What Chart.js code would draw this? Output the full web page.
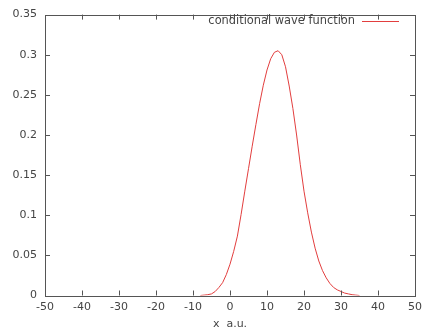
<!DOCTYPE html>
<html lang="en">
<head>
    <meta charset="UTF-8">
    <title>Conditional wave function</title>
    <script src="https://cdn.jsdelivr.net/npm/chart.js"></script>
    <style>
        html, body { margin: 0; padding: 0; background: #fff; }
        #wrap { width: 422px; height: 333px; }
    </style>
</head>
<body>
    <div id="wrap"><canvas id="waveChart"></canvas></div>
    <script>
        // values
        const xValues = [-8, -7, -6, -5, -4, -3, -2, -1, 0, 1, 2, 3, 4, 5, 6, 7, 8, 9, 10, 11, 12, 13,
            14, 15, 16, 17, 18, 19, 20, 21, 22, 23, 24, 25, 26, 27, 28, 29, 30, 31, 32, 33, 34, 35];
        const waveValues = [0.0, 0.0005, 0.001, 0.002, 0.005, 0.010, 0.016, 0.026, 0.039, 0.055, 0.074,
            0.101, 0.130, 0.158, 0.186, 0.213, 0.239, 0.262, 0.281, 0.295, 0.303, 0.305, 0.300, 0.285,
            0.261, 0.233, 0.200, 0.163, 0.130, 0.103, 0.079, 0.059, 0.043, 0.031, 0.022, 0.015, 0.010,
            0.007, 0.005, 0.003, 0.002, 0.001, 0.0005, 0.0];
        const xTicks = [-50, -40, -30, -20, -10, 0, 10, 20, 30, 40, 50];
        const yTicks = [0, 0.05, 0.1, 0.15, 0.2, 0.25, 0.3, 0.35];
        const seriesLabel = 'conditional wave function';
        const xTitle = 'x  a.u.';

        const lineColor = 'rgb(226, 62, 62)';
        const axisColor = '#555';
        const textColor = '#444';
        const font = { family: 'DejaVu Sans', size: 11 };

        // gnuplot-like frame, inward ticks and key
        const framePlugin = {
            id: 'frame',
            afterDraw(chart) {
                const { ctx, chartArea: a, scales } = chart;
                ctx.save();
                ctx.strokeStyle = axisColor;
                ctx.lineWidth = 1;
                ctx.strokeRect(Math.round(a.left) + 0.5, Math.round(a.top) + 0.5,
                    Math.round(a.right - a.left), Math.round(a.bottom - a.top));
                ctx.beginPath();
                xTicks.forEach(v => {
                    if (v === xTicks[0] || v === xTicks[xTicks.length - 1]) return;
                    const px = Math.round(scales.x.getPixelForValue(v)) + 0.5;
                    ctx.moveTo(px, a.bottom); ctx.lineTo(px, a.bottom - 5);
                    ctx.moveTo(px, a.top); ctx.lineTo(px, a.top + 5);
                });
                yTicks.forEach(v => {
                    if (v === yTicks[0] || v === yTicks[yTicks.length - 1]) return;
                    const py = Math.round(scales.y.getPixelForValue(v)) + 0.5;
                    ctx.moveTo(a.left, py); ctx.lineTo(a.left + 5, py);
                    ctx.moveTo(a.right, py); ctx.lineTo(a.right - 5, py);
                });
                ctx.stroke();

                // key: text then sample line
                ctx.font = '11.4px ' + font.family;
                ctx.fillStyle = textColor;
                ctx.textAlign = 'right';
                ctx.textBaseline = 'middle';
                ctx.fillText(seriesLabel, 355, 21);
                ctx.beginPath();
                ctx.strokeStyle = lineColor;
                ctx.moveTo(362, 21.5); ctx.lineTo(399, 21.5);
                ctx.stroke();
                ctx.restore();
            }
        };

        new Chart(document.getElementById('waveChart'), {
            type: 'line',
            data: {
                datasets: [{
                    label: seriesLabel,
                    data: xValues.map((x, i) => ({ x: x, y: waveValues[i] })),
                    borderColor: lineColor,
                    borderWidth: 1,
                    pointRadius: 0,
                    tension: 0,
                    fill: false
                }]
            },
            options: {
                responsive: true,
                maintainAspectRatio: false,
                animation: false,
                layout: { padding: { top: 13, right: 7, left: 0, bottom: 0 } },
                plugins: { legend: { display: false }, tooltip: { enabled: false } },
                scales: {
                    x: {
                        type: 'linear',
                        min: -50, max: 50,
                        afterBuildTicks: s => { s.ticks = xTicks.map(v => ({ value: v })); },
                        afterFit: s => { s.height = 37.5; s.paddingLeft = 0; s.paddingRight = 0; },
                        grid: { display: false, drawTicks: false },
                        border: { display: false },
                        ticks: { color: textColor, font: font, padding: 5, maxRotation: 0 },
                        title: { display: true, text: xTitle, color: textColor, font: font, padding: { top: 0, bottom: 2 } }
                    },
                    y: {
                        min: 0, max: 0.35,
                        afterBuildTicks: s => { s.ticks = yTicks.map(v => ({ value: v })); },
                        afterFit: s => { s.width = 45; },
                        grid: { display: false, drawTicks: false },
                        border: { display: false },
                        ticks: {
                            color: textColor, font: font, padding: 8,
                            callback: v => String(Number(v.toFixed(2)))
                        }
                    }
                }
            },
            plugins: [framePlugin]
        });
    </script>
</body>
</html>
